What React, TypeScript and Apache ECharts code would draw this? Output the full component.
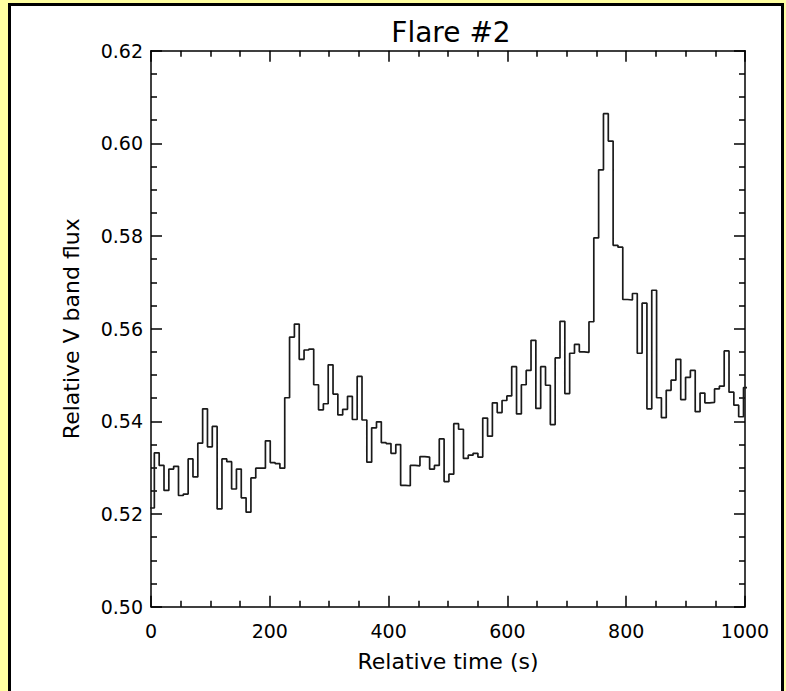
import React, { useEffect, useRef } from "react";
import * as echarts from "echarts";

const TITLE = "Flare #2";
const X_NAME = "Relative time (s)";
const Y_NAME = "Relative V band flux";
const X_MIN = 0;
const X_MAX = 1000;
const X_STEP = 200;
const Y_MIN = 0.5;
const Y_MAX = 0.62;
const Y_STEP = 0.02;

// Binned light curve: bin start time (s) and width (s)
const BIN_START = -2.5;
const BIN_WIDTH = 8.13;
const FLUX = [
  0.5213, 0.5332, 0.5305, 0.5251, 0.5297, 0.5303, 0.524, 0.5243, 0.5319, 0.528,
  0.5353, 0.5427, 0.5345, 0.5389, 0.5211, 0.5319, 0.5313, 0.5254, 0.5297, 0.5235,
  0.5204, 0.5278, 0.5299, 0.5299, 0.5358, 0.5311, 0.5309, 0.5299, 0.5451, 0.5582,
  0.561, 0.5534, 0.5554, 0.5556, 0.5479, 0.5425, 0.5438, 0.5522, 0.5459, 0.5414,
  0.5426, 0.5454, 0.5404, 0.5497, 0.5403, 0.5312, 0.5386, 0.5399, 0.5354, 0.5352,
  0.5331, 0.535, 0.5262, 0.5261, 0.5305, 0.5304, 0.5324, 0.5323, 0.5297, 0.5305,
  0.5362, 0.527, 0.5286, 0.5395, 0.5383, 0.532, 0.5327, 0.5331, 0.5323, 0.5407,
  0.5368, 0.544, 0.5419, 0.5445, 0.5455, 0.5518, 0.5416, 0.5479, 0.551, 0.5575,
  0.5428, 0.5518, 0.5478, 0.5393, 0.5537, 0.5616, 0.546, 0.5547, 0.5566, 0.555,
  0.5549, 0.5615, 0.5796, 0.5943, 0.6064, 0.6005, 0.578, 0.5776, 0.5663, 0.5662,
  0.5676, 0.5547, 0.5655, 0.5427, 0.5683, 0.5451, 0.5408, 0.5467, 0.5489, 0.5534,
  0.5447, 0.5495, 0.551, 0.5421, 0.5461, 0.544, 0.5441, 0.547, 0.5476, 0.5552,
  0.5463, 0.5435, 0.541, 0.5473,
];

const FONT = "DejaVu Sans";
const INK = "#000";

export default function App() {
  const ref = useRef<HTMLDivElement>(null);

  useEffect(() => {
    if (!ref.current) return;
    const chart = echarts.init(ref.current, undefined, { renderer: "svg" });

    const data: [number, number][] = FLUX.map((v, i) => [BIN_START + i * BIN_WIDTH, v]);
    // close the last bin
    data.push([BIN_START + FLUX.length * BIN_WIDTH, FLUX[FLUX.length - 1]]);

    const lineStyle = { color: INK, width: 1.5 };
    const baseX = {
      type: "value" as const,
      min: X_MIN,
      max: X_MAX,
      interval: X_STEP,
      axisLine: { show: true, onZero: false, lineStyle },
      axisTick: { show: true, inside: true, length: 11, lineStyle },
      minorTick: { show: true, splitNumber: 4, length: 6, lineStyle },
      splitLine: { show: false },
    };
    const baseY = {
      type: "value" as const,
      min: Y_MIN,
      max: Y_MAX,
      interval: Y_STEP,
      axisLine: { show: true, onZero: false, lineStyle },
      axisTick: { show: true, inside: true, length: 11, lineStyle },
      minorTick: { show: true, splitNumber: 4, length: 6, lineStyle },
      splitLine: { show: false },
    };

    chart.setOption({
      animation: false,
      backgroundColor: "#FFFFA0",
      graphic: [
        {
          type: "rect",
          z: -10,
          shape: { x: 9.5, y: 4.5, width: 773, height: 720 },
          style: { fill: "#FFFFFF", stroke: "#000", lineWidth: 3 },
        },
      ],
      title: {
        text: TITLE,
        left: 446,
        top: 13,
        textAlign: "center",
        textStyle: { fontFamily: FONT, fontSize: 28, fontWeight: "normal", color: INK },
      },
      grid: { left: 151, top: 50.7, right: 41, bottom: 84.3, containLabel: false },
      xAxis: [
        {
          ...baseX,
          position: "bottom",
          name: X_NAME,
          nameLocation: "middle",
          nameGap: 44,
          nameTextStyle: { fontFamily: FONT, fontSize: 22, color: INK },
          axisLabel: {
            fontFamily: FONT,
            fontSize: 19,
            color: INK,
            margin: 15,
            formatter: (v: number) => String(v),
          },
        },
        { ...baseX, position: "top", axisLabel: { show: false } },
      ],
      yAxis: [
        {
          ...baseY,
          position: "left",
          name: Y_NAME,
          nameLocation: "middle",
          nameGap: 69,
          nameRotate: 90,
          nameTextStyle: { fontFamily: FONT, fontSize: 22, color: INK },
          axisLabel: {
            fontFamily: FONT,
            fontSize: 19,
            color: INK,
            margin: 8,
            formatter: (v: number) => v.toFixed(2),
          },
        },
        { ...baseY, position: "right", axisLabel: { show: false } },
      ],
      series: [
        {
          type: "line",
          step: "end",
          data,
          showSymbol: false,
          symbol: "none",
          clip: true,
          lineStyle: { color: "#1a1a1a", width: 1.7 },
        },
      ],
    });

    return () => chart.dispose();
  }, []);

  return (
    <div
      ref={ref}
      style={{ position: "absolute", left: 0, top: 0, width: 786, height: 691 }}
    />
  );
}
